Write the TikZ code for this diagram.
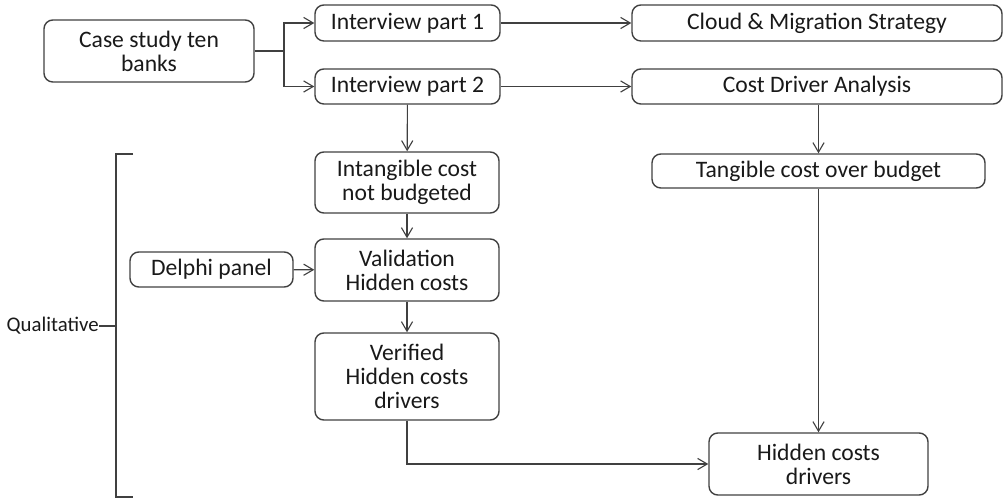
\documentclass[tikz,border=0pt]{standalone}
\usepackage{fontspec}
\setmainfont{Carlito}
\usepackage{xcolor}
\usepackage{tikz}
\usetikzlibrary{arrows.meta,positioning}
\definecolor{LineGray}{RGB}{64,64,64}
\definecolor{TextDark}{RGB}{25,25,25}
\tikzset{
  cbox/.style={draw=LineGray,line width=1pt,rounded corners=2.2mm,align=center,text=TextDark,
    font=\fontsize{16.8}{17}\selectfont,inner sep=0pt},
  arr/.style={-{Straight Barb[length=2.4mm,width=2.8mm]},draw=LineGray,line width=0.8pt},
  ln/.style={draw=LineGray,line width=0.8pt},
}
\begin{document}
\begin{tikzpicture}[x=0.25mm,y=-0.25mm]
  \useasboundingbox (0,0) rectangle (1003,499);
  % top row
  \node[cbox,minimum width=52.5mm,minimum height=15.5mm] (case) at (149,51) {Case study ten\\banks};
  \node[cbox,minimum width=46.25mm,minimum height=9mm] (int1) at (407.5,23) {Interview part 1};
  \node[cbox,minimum width=46.25mm,minimum height=8.75mm] (int2) at (407.5,86.5) {Interview part 2};
  \node[cbox,minimum width=92.5mm,minimum height=9mm] (cloud) at (817,23) {Cloud \& Migration Strategy};
  \node[cbox,minimum width=92.5mm,minimum height=8.75mm] (cost) at (817,86.5) {Cost Driver Analysis};
  % qualitative part
  \node[cbox,minimum width=83.25mm,minimum height=8.5mm] (tang) at (818.5,171) {Tangible cost over budget};
  \node[cbox,minimum width=46mm,minimum height=15.25mm] (intang) at (407,182.5) {Intangible cost\\not budgeted};
  \node[cbox,minimum width=46mm,minimum height=15.5mm] (valid) at (407,270) {Validation\\Hidden costs};
  \node[cbox,minimum width=40.75mm,minimum height=8.75mm] (delphi) at (211.5,269.5) {Delphi panel};
  \node[cbox,minimum width=46mm,minimum height=21.75mm] (verif) at (407,376.5) {Verified\\Hidden costs\\drivers};
  \node[cbox,minimum width=54.75mm,minimum height=15.5mm] (hidden) at (818.5,464) {Hidden costs\\drivers};
  \node[text=TextDark,font=\fontsize{14.8}{16}\selectfont,inner sep=0pt,anchor=east] (qual) at (99,326) {Qualitative};
  % connectors
  \draw[ln] (case.east) -- (284,51) coordinate (split);
  \draw[arr] (split) |- (int1.west);
  \draw[arr] (split) |- (int2.west);
  \draw[arr] (int1) -- (cloud);
  \draw[arr] (int2) -- (cost);
  \draw[arr] (int2) -- (intang);
  \draw[arr] (intang) -- (valid);
  \draw[arr] (delphi) -- (valid);
  \draw[arr] (valid) -- (verif);
  \draw[arr] (cost.south -| tang.north) -- (tang.north);
  \draw[arr] (tang) -- (hidden);
  \draw[arr] (verif.south) |- (hidden.west);
  % bracket
  \coordinate (btop) at (133,154);
  \coordinate (bbot) at (133,497);
  \draw[ln] (btop) -- ++(-17,0) coordinate (bcorner) -- (bcorner |- bbot) -- (bbot);
  \draw[ln] (qual.east) -- (qual.east -| bcorner);
\end{tikzpicture}
\end{document}
